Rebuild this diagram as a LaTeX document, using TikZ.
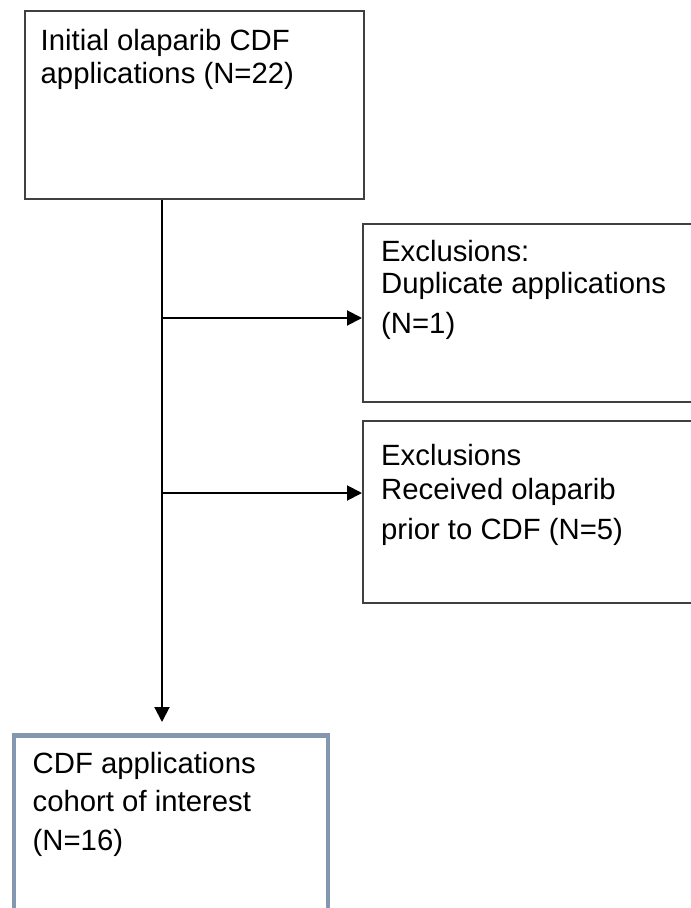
\documentclass[tikz,border=0pt]{standalone}
\usepackage{fontspec}
\setmainfont{Liberation Sans}
\usetikzlibrary{arrows.meta}
\definecolor{boxline}{RGB}{64,64,64}
\definecolor{cohortline}{RGB}{132,151,176}
\begin{document}
\begin{tikzpicture}[x=1pt,y=-1pt,
  box/.style={draw=boxline, line width=1.5pt, inner sep=0pt, anchor=north west},
  cohortbox/.style={draw=cohortline, line width=4.7pt, inner sep=0pt, anchor=north west},
  txt/.style={anchor=base west, inner sep=0pt, font=\fontsize{29.3}{33}\selectfont},
  flow/.style={line width=2pt, -{Triangle[length=15pt,width=15pt]}}]
\useasboundingbox (0,0) rectangle (691,908);
\clip (0,0) rectangle (691,908);
% boxes
\node[box, minimum width=339pt, minimum height=188pt] (init) at (24,10) {};
\node[box, minimum width=345pt, minimum height=178pt] (excl1) at (362,223) {};
\node[box, minimum width=345pt, minimum height=182pt] (excl2) at (362,420) {};
\node[cohortbox, minimum width=314pt, minimum height=220pt] (cohort) at (11.7,733) {};
% texts
\node[txt] (t1a) at (40.5,50) {Initial olaparib CDF};
\node[txt] (t1b) at (40.5,83.3) {applications (N=22)};
\node[txt] (t2a) at (381,261) {Exclusions:};
\node[txt] (t2b) at (381,293) {Duplicate applications};
\node[txt] (t2c) at (381,333) {(N=1)};
\node[txt] (t3a) at (381,465) {Exclusions};
\node[txt] (t3b) at (381,499) {Received olaparib};
\node[txt] (t3c) at (381,539) {prior to CDF (N=5)};
\node[txt] (t4a) at (32.5,773) {CDF applications};
\node[txt] (t4b) at (32.5,811) {cohort of interest};
\node[txt] (t4c) at (32.5,850) {(N=16)};
% connectors
\coordinate (vx) at (162,0);
\coordinate (b1) at (162,318);
\coordinate (b2) at (162,493);
\draw[flow] (init.south -| vx) -- ([yshift=11pt]cohort.north -| vx);
\draw[flow] (b1) -- (b1 -| excl1.west);
\draw[flow] (b2) -- (b2 -| excl2.west);
\end{tikzpicture}
\end{document}
